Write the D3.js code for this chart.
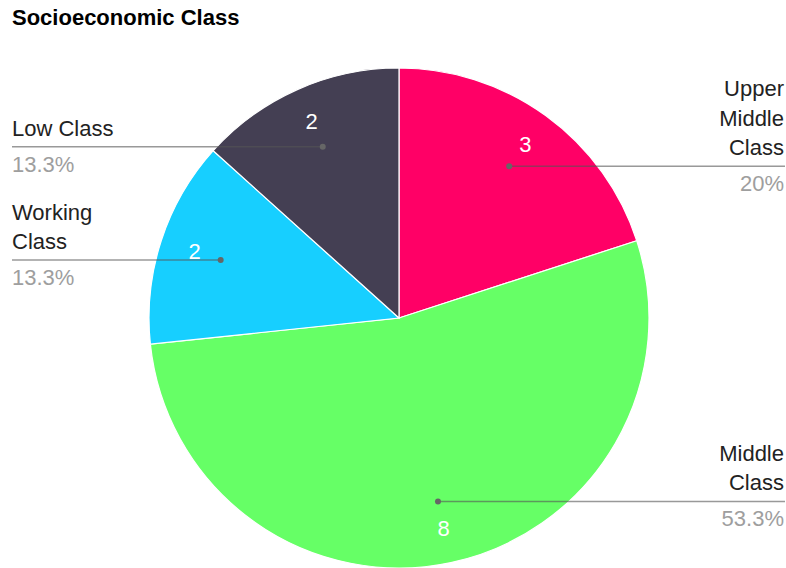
<!DOCTYPE html>
<html>
<head>
<meta charset="utf-8">
<script src="https://cdn.jsdelivr.net/npm/d3@7"></script>
<style>
  body { margin: 0; background: #fff; }
  svg { display: block; font-family: Arial, "Liberation Sans", sans-serif; }
</style>
</head>
<body>
<div id="chart"></div>
<script>
// data, clockwise from 12 o'clock
var classes = ["Upper Middle Class", "Middle Class", "Working Class", "Low Class"];
var counts = [3, 8, 2, 2];
var colors = ["#ff0066", "#66ff66", "#17cfff", "#443f53"];

var width = 786, height = 568;
var cx = 399, cy = 318, radius = 250;
var fs = "22px";

var svg = d3.select("#chart").append("svg")
    .attr("width", width)
    .attr("height", height);

svg.append("text")
    .attr("x", 12)
    .attr("y", 25)
    .attr("font-size", "22px")
    .attr("font-weight", "bold")
    .attr("fill", "#000")
    .text("Socioeconomic Class");

var total = d3.sum(counts);
var pie = d3.pie().sort(null).value(function(d) { return d; });
var arcs = pie(counts);

var arc = d3.arc().innerRadius(0).outerRadius(radius);
var dotArc = d3.arc().innerRadius(radius * 0.75).outerRadius(radius * 0.75);
var valArc = d3.arc().innerRadius(radius * 0.86).outerRadius(radius * 0.86);

var g = svg.append("g").attr("transform", "translate(" + cx + "," + cy + ")");

g.selectAll("path")
    .data(arcs)
    .enter().append("path")
    .attr("d", arc)
    .attr("fill", function(d, i) { return colors[i]; })
    .attr("stroke", "#fff")
    .attr("stroke-width", 1.2);

// values inside the slices
g.selectAll("text.val")
    .data(arcs)
    .enter().append("text")
    .attr("class", "val")
    .attr("transform", function(d) { return "translate(" + valArc.centroid(d) + ")"; })
    .attr("text-anchor", "middle")
    .attr("dy", "0.35em")
    .attr("font-size", fs)
    .attr("fill", "#fff")
    .text(function(d) { return d.value; });

// leader lines + side labels
var lineH = 29.5;
var maxW = 112;

function wrap(name) {
    var tmp = svg.append("text").attr("font-size", fs);
    var words = name.split(" ");
    var lines = [];
    var cur = "";
    words.forEach(function(w) {
        var test = cur ? cur + " " + w : w;
        tmp.text(test);
        if (tmp.node().getComputedTextLength() > maxW && cur) {
            lines.push(cur);
            cur = w;
        } else {
            cur = test;
        }
    });
    lines.push(cur);
    tmp.remove();
    return lines;
}

arcs.forEach(function(d, i) {
    var p = dotArc.centroid(d);
    var px = cx + p[0], py = cy + p[1];
    var mid = (d.startAngle + d.endAngle) / 2;
    var right = mid < Math.PI;
    var edge = right ? 785 : 12;

    svg.append("line")
        .attr("x1", px).attr("y1", py)
        .attr("x2", edge).attr("y2", py)
        .attr("stroke", "#555")
        .attr("stroke-opacity", 0.6)
        .attr("stroke-width", 1.5);

    svg.append("circle")
        .attr("cx", px).attr("cy", py)
        .attr("r", 3)
        .attr("fill", "#666");

    var lines = wrap(classes[i]);
    var tx = right ? 784 : 12;
    var anchor = right ? "end" : "start";
    lines.forEach(function(l, j) {
        svg.append("text")
            .attr("x", tx)
            .attr("y", py - 11 - (lines.length - 1 - j) * lineH)
            .attr("text-anchor", anchor)
            .attr("font-size", fs)
            .attr("fill", "#222")
            .text(l);
    });

    svg.append("text")
        .attr("x", tx)
        .attr("y", py + 25)
        .attr("text-anchor", anchor)
        .attr("font-size", fs)
        .attr("fill", "#9e9e9e")
        .text(d3.format(".3~")(d.value / total * 100) + "%");
});
</script>
</body>
</html>
